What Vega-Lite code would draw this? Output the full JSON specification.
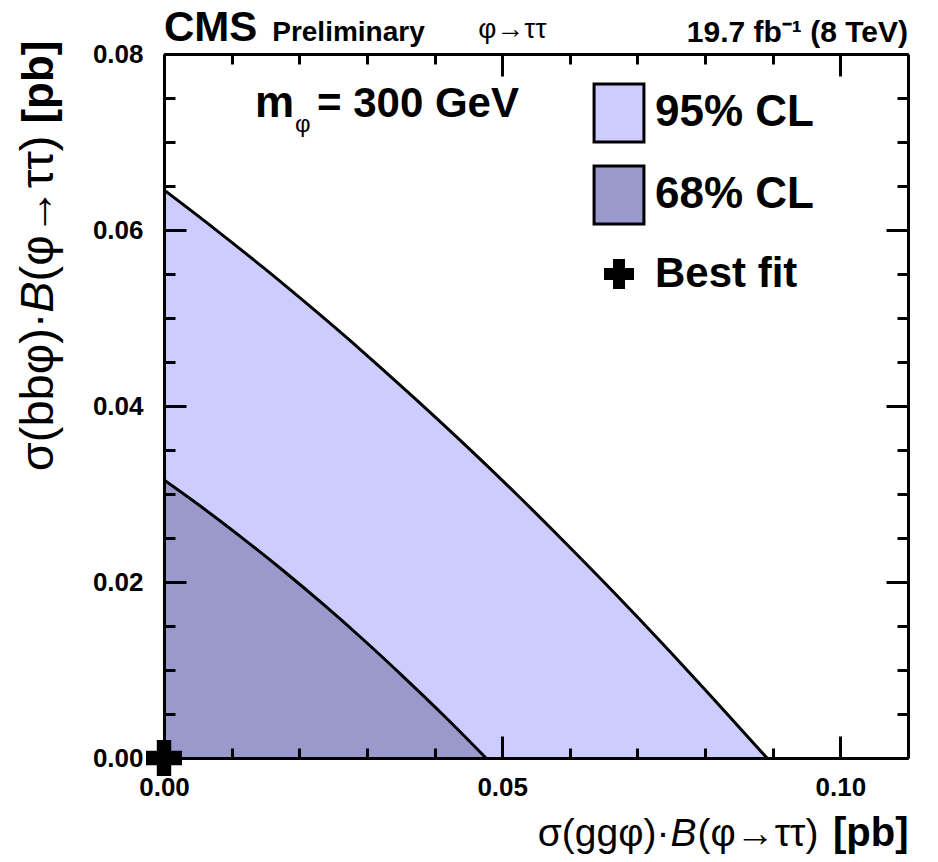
{
  "$schema": "https://vega.github.io/schema/vega-lite/v6.json",
  "width": 744,
  "height": 704,
  "autosize": {"type": "none"},
  "padding": {"left": 164, "top": 54, "right": 30, "bottom": 104},
  "background": "white",
  "config": {
    "view": {"stroke": null},
    "axis": {
      "grid": false,
      "zindex": 2,
      "domainColor": "black",
      "domainWidth": 3,
      "tickColor": "black",
      "tickWidth": 3,
      "labelColor": "black",
      "labelFont": "Liberation Sans",
      "labelFontWeight": "bold",
      "labelFontSize": 26,
      "labelFlush": false,
      "labelOverlap": false,
      "labelBound": false,
      "titleColor": "black",
      "titleFont": "Liberation Sans"
    }
  },
  "datasets": {
    "cl95": [
      {"x": 0.0, "y": 0.06455, "level": "95% CL"},
      {"x": 0.00739, "y": 0.06019, "level": "95% CL"},
      {"x": 0.01479, "y": 0.05566, "level": "95% CL"},
      {"x": 0.02218, "y": 0.05094, "level": "95% CL"},
      {"x": 0.02957, "y": 0.04605, "level": "95% CL"},
      {"x": 0.03696, "y": 0.04095, "level": "95% CL"},
      {"x": 0.04436, "y": 0.03569, "level": "95% CL"},
      {"x": 0.05175, "y": 0.03025, "level": "95% CL"},
      {"x": 0.05914, "y": 0.02461, "level": "95% CL"},
      {"x": 0.06653, "y": 0.01881, "level": "95% CL"},
      {"x": 0.07393, "y": 0.01281, "level": "95% CL"},
      {"x": 0.08132, "y": 0.00664, "level": "95% CL"},
      {"x": 0.08915, "y": 0.0, "level": "95% CL"}
    ],
    "cl68": [
      {"x": 0.0, "y": 0.03159, "level": "68% CL"},
      {"x": 0.00591, "y": 0.02832, "level": "68% CL"},
      {"x": 0.01183, "y": 0.02485, "level": "68% CL"},
      {"x": 0.01774, "y": 0.02122, "level": "68% CL"},
      {"x": 0.02366, "y": 0.01739, "level": "68% CL"},
      {"x": 0.02957, "y": 0.01338, "level": "68% CL"},
      {"x": 0.03548, "y": 0.00917, "level": "68% CL"},
      {"x": 0.0414, "y": 0.0048, "level": "68% CL"},
      {"x": 0.04761, "y": 0.0, "level": "68% CL"}
    ],
    "best": [
      {"x": 0.0, "y": 0.0, "level": "Best fit"}
    ]
  },
  "resolve": {"axis": {"x": "independent", "y": "independent"}},
  "layer": [
    {
      "data": {"name": "cl95"},
      "mark": {"type": "area", "opacity": 1, "clip": true, "interpolate": "monotone"},
      "encoding": {
        "x": {
          "field": "x", "type": "quantitative",
          "scale": {"domain": [0, 0.11], "nice": false, "zero": false},
          "axis": {"orient": "bottom", "values": [0, 0.05, 0.1], "tickSize": -22, "labels": false, "domain": true, "title": null, "zindex": 2}
        },
        "y": {
          "field": "y", "type": "quantitative",
          "scale": {"domain": [0, 0.08], "nice": false, "zero": false},
          "axis": {"orient": "left", "values": [0, 0.02, 0.04, 0.06, 0.08], "tickSize": -22, "labels": false, "domain": true, "title": null, "zindex": 2}
        },
        "color": {
          "field": "level", "type": "nominal",
          "scale": {"domain": ["95% CL", "68% CL", "Best fit"], "range": ["#ccccff", "#9999cc", "#000000"]},
          "legend": {
            "title": null, "orient": "none", "legendX": 433, "legendY": 37, "padding": 0,
            "symbolSize": 3364, "symbolStrokeColor": "black", "symbolStrokeWidth": 3, "symbolOpacity": 1,
            "labelFont": "Liberation Sans", "labelFontWeight": "bold", "labelFontSize": 44,
            "labelColor": "black", "labelOffset": 14, "labelLimit": 0, "rowPadding": 12,
            "labelBaseline": "middle",
            "encode": {
              "symbols": {"update": {
                "shape": {"signal": "datum.value === 'Best fit' ? 'cross' : 'M-0.86,-1H0.86V1H-0.86Z'"},
                "size": {"signal": "datum.value === 'Best fit' ? 900 : 3364"},
                "strokeWidth": {"signal": "datum.value === 'Best fit' ? 8.5 : 3"},
                "stroke": {"signal": "datum.value === 'Best fit' ? 'transparent' : 'black'"}
              }},
              "labels": {"update": {
                "fontSize": {"signal": "datum.value === 'Best fit' ? 42 : 44"}
              }}
            }
          }
        }
      }
    },
    {
      "data": {"name": "cl95"},
      "mark": {"type": "line", "color": "black", "strokeWidth": 3, "clip": true, "interpolate": "monotone"},
      "encoding": {
        "x": {
          "field": "x", "type": "quantitative",
          "scale": {"domain": [0, 0.11], "nice": false, "zero": false},
          "axis": {"orient": "bottom", "values": [0.01, 0.02, 0.03, 0.04, 0.06, 0.07, 0.08, 0.09], "tickSize": -10, "labels": false, "domain": false, "title": null, "zindex": 2}
        },
        "y": {
          "field": "y", "type": "quantitative",
          "scale": {"domain": [0, 0.08], "nice": false, "zero": false},
          "axis": {"orient": "left", "values": [0.005, 0.01, 0.015, 0.025, 0.03, 0.035, 0.045, 0.05, 0.055, 0.065, 0.07, 0.075], "tickSize": -11, "labels": false, "domain": false, "title": null, "zindex": 2}
        }
      }
    },
    {
      "data": {"name": "cl68"},
      "mark": {"type": "area", "opacity": 1, "clip": true, "interpolate": "monotone"},
      "encoding": {
        "x": {
          "field": "x", "type": "quantitative",
          "scale": {"domain": [0, 0.11], "nice": false, "zero": false},
          "axis": {"orient": "top", "values": [0, 0.05, 0.1], "tickSize": -22, "labels": false, "domain": true, "title": null, "zindex": 2}
        },
        "y": {
          "field": "y", "type": "quantitative",
          "scale": {"domain": [0, 0.08], "nice": false, "zero": false},
          "axis": {"orient": "right", "values": [0, 0.02, 0.04, 0.06, 0.08], "tickSize": -22, "labels": false, "domain": true, "title": null, "zindex": 2}
        },
        "color": {"field": "level", "type": "nominal"}
      }
    },
    {
      "data": {"name": "cl68"},
      "mark": {"type": "line", "color": "black", "strokeWidth": 3, "clip": true, "interpolate": "monotone"},
      "encoding": {
        "x": {
          "field": "x", "type": "quantitative",
          "scale": {"domain": [0, 0.11], "nice": false, "zero": false},
          "axis": {"orient": "top", "values": [0.01, 0.02, 0.03, 0.04, 0.06, 0.07, 0.08, 0.09], "tickSize": -10, "labels": false, "domain": false, "title": null, "zindex": 2}
        },
        "y": {
          "field": "y", "type": "quantitative",
          "scale": {"domain": [0, 0.08], "nice": false, "zero": false},
          "axis": {"orient": "right", "values": [0.005, 0.01, 0.015, 0.025, 0.03, 0.035, 0.045, 0.05, 0.055, 0.065, 0.07, 0.075], "tickSize": -11, "labels": false, "domain": false, "title": null, "zindex": 2}
        }
      }
    },
    {
      "data": {"name": "best"},
      "mark": {"type": "point", "shape": "cross", "filled": true, "size": 1300, "opacity": 1, "clip": false},
      "encoding": {
        "x": {
          "field": "x", "type": "quantitative",
          "axis": {
            "orient": "bottom", "values": [0, 0.05, 0.1], "format": ".2f",
            "ticks": false, "labelPadding": 16, "labelBaseline": "top", "domain": false,
            "title": "(φ→ττ)", "titleFontSize": 39, "titleFontWeight": "normal",
            "titleAlign": "right", "titleX": 654, "titleY": 87, "titleBaseline": "alphabetic"
          }
        },
        "y": {
          "field": "y", "type": "quantitative",
          "axis": {
            "orient": "left", "values": [0, 0.02, 0.04, 0.06, 0.08], "format": ".2f",
            "ticks": false, "labelPadding": 21, "domain": false,
            "title": "(φ→ττ)", "titleFontSize": 47, "titleFontWeight": "normal",
            "titleAngle": 270, "titleAlign": "right", "titleX": -112, "titleY": 81,
            "titleBaseline": "alphabetic"
          }
        },
        "color": {"field": "level", "type": "nominal"}
      }
    },
    {
      "data": {"values": [{}]},
      "mark": {"type": "text", "text": "CMS", "font": "Liberation Sans", "fontWeight": "bold", "fontSize": 42, "align": "left", "baseline": "alphabetic", "color": "black"},
      "encoding": {
        "x": {
          "datum": 0, "type": "quantitative",
          "axis": {
            "orient": "bottom", "ticks": false, "labels": false, "domain": false,
            "title": "[pb]", "titleFontSize": 40, "titleFontWeight": "bold",
            "titleAlign": "right", "titleX": 744, "titleY": 87, "titleBaseline": "alphabetic"
          }
        },
        "y": {
          "datum": 0.0815, "type": "quantitative",
          "axis": {
            "orient": "left", "ticks": false, "labels": false, "domain": false,
            "title": "[pb]", "titleFontSize": 44, "titleFontWeight": "bold",
            "titleAngle": 270, "titleAlign": "right", "titleX": -112, "titleY": -14,
            "titleBaseline": "alphabetic"
          }
        }
      }
    },
    {
      "data": {"values": [{}]},
      "mark": {"type": "text", "text": "Preliminary", "font": "Liberation Sans", "fontWeight": "bold", "fontSize": 28, "align": "left", "baseline": "alphabetic", "color": "black"},
      "encoding": {
        "x": {
          "datum": 0.016, "type": "quantitative",
          "axis": {
            "orient": "bottom", "ticks": false, "labels": false, "domain": false,
            "title": "B", "titleFontSize": 39, "titleFontWeight": "normal", "titleFontStyle": "italic",
            "titleAlign": "right", "titleX": 532, "titleY": 87, "titleBaseline": "alphabetic"
          }
        },
        "y": {
          "datum": 0.0815, "type": "quantitative",
          "axis": {
            "orient": "left", "ticks": false, "labels": false, "domain": false,
            "title": "B", "titleFontSize": 47, "titleFontWeight": "normal", "titleFontStyle": "italic",
            "titleAngle": 270, "titleAlign": "right", "titleX": -112, "titleY": 227,
            "titleBaseline": "alphabetic"
          }
        }
      }
    },
    {
      "data": {"values": [{}]},
      "mark": {"type": "text", "text": "φ→ττ", "font": "Liberation Sans", "fontWeight": "normal", "fontSize": 28, "align": "center", "baseline": "alphabetic", "color": "black"},
      "encoding": {
        "x": {
          "datum": 0.0515, "type": "quantitative",
          "axis": {
            "orient": "bottom", "ticks": false, "labels": false, "domain": false,
            "title": "σ(ggφ)·", "titleFontSize": 39, "titleFontWeight": "normal",
            "titleAlign": "right", "titleX": 505, "titleY": 87, "titleBaseline": "alphabetic"
          }
        },
        "y": {
          "datum": 0.0818, "type": "quantitative",
          "axis": {
            "orient": "left", "ticks": false, "labels": false, "domain": false,
            "title": "σ(bbφ)·", "titleFontSize": 47, "titleFontWeight": "normal",
            "titleAngle": 270, "titleAlign": "right", "titleX": -112, "titleY": 258,
            "titleBaseline": "alphabetic"
          }
        }
      }
    },
    {
      "data": {"values": [{}]},
      "mark": {"type": "text", "text": "19.7 fb⁻¹ (8 TeV)", "font": "Liberation Sans", "fontWeight": "bold", "fontSize": 30, "align": "right", "baseline": "alphabetic", "color": "black"},
      "encoding": {
        "x": {"datum": 0.11, "type": "quantitative", "axis": null},
        "y": {"datum": 0.0814, "type": "quantitative", "axis": null}
      }
    },
    {
      "data": {"values": [{}]},
      "mark": {"type": "text", "text": "m", "font": "Liberation Sans", "fontWeight": "bold", "fontSize": 44, "align": "left", "baseline": "alphabetic", "color": "black"},
      "encoding": {
        "x": {"datum": 0.01345, "type": "quantitative", "axis": null},
        "y": {"datum": 0.07284, "type": "quantitative", "axis": null}
      }
    },
    {
      "data": {"values": [{}]},
      "mark": {"type": "text", "text": "φ", "font": "Liberation Sans", "fontWeight": "normal", "fontSize": 24, "align": "left", "baseline": "alphabetic", "color": "black", "dx": 40, "dy": 15},
      "encoding": {
        "x": {"datum": 0.01345, "type": "quantitative", "axis": null},
        "y": {"datum": 0.07284, "type": "quantitative", "axis": null}
      }
    },
    {
      "data": {"values": [{}]},
      "mark": {"type": "text", "text": "= 300 GeV", "font": "Liberation Sans", "fontWeight": "bold", "fontSize": 42, "align": "left", "baseline": "alphabetic", "color": "black", "dx": 62},
      "encoding": {
        "x": {"datum": 0.01345, "type": "quantitative", "axis": null},
        "y": {"datum": 0.07284, "type": "quantitative", "axis": null}
      }
    }
  ]
}
